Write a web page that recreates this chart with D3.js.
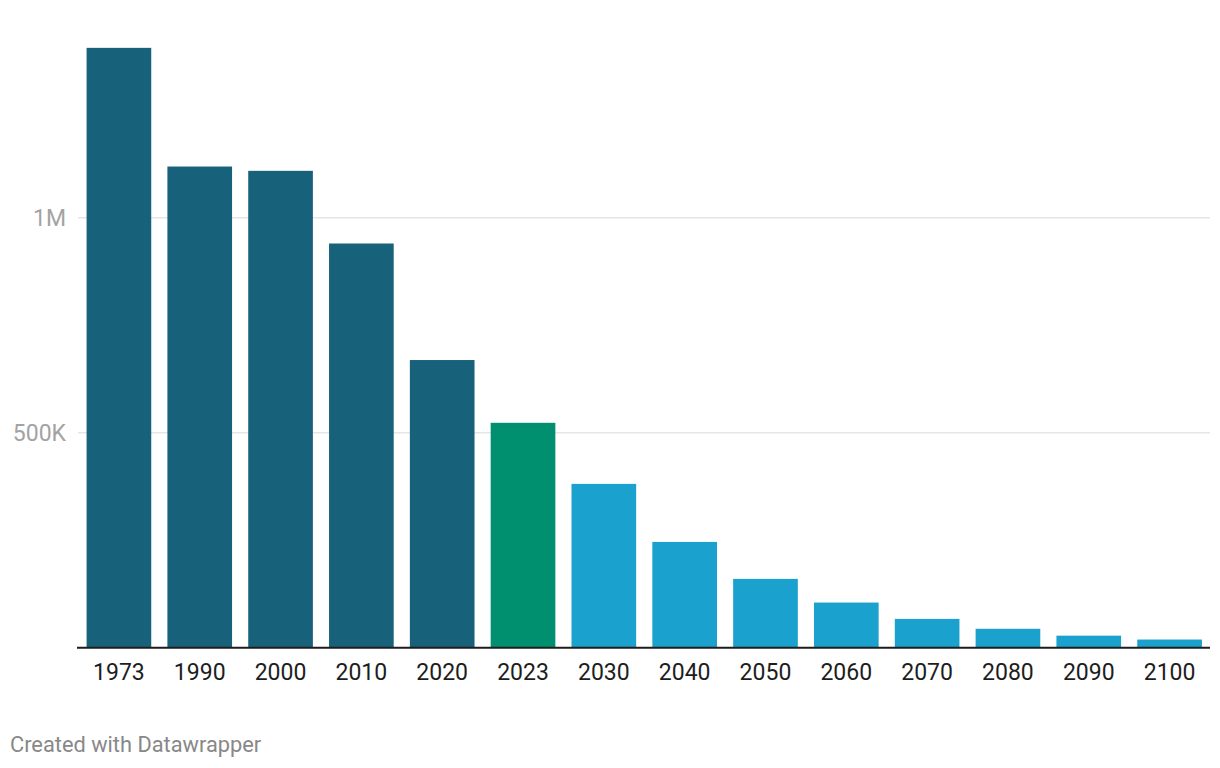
<!DOCTYPE html>
<html>
<head>
<meta charset="utf-8">
<script src="https://cdn.jsdelivr.net/npm/d3@7"></script>
<style>
  html, body { margin: 0; padding: 0; background: #fff; }
  svg { display: block; font-family: Roboto, "Noto Sans", sans-serif; }
</style>
</head>
<body>
<svg id="chart" width="1220" height="768"></svg>
<script>
const years = ["1973","1990","2000","2010","2020","2023","2030","2040","2050","2060","2070","2080","2090","2100"];
const values = [1395000,1119000,1109000,940000,669000,523000,381000,246000,160000,105000,67000,44000,28000,19000];
const groups = ["past","past","past","past","past","current","future","future","future","future","future","future","future","future"];
const yTicks = [500000, 1000000];
const yTickLabels = ["500K", "1M"];
const colors = { past: "#18617a", current: "#01906f", future: "#1aa1cd" };

const svg = d3.select("#chart");
const x = d3.scaleBand().domain(years).range([78.5, 1210]).paddingInner(0.2).paddingOuter(0.1);
const y = d3.scaleLinear().domain([0, 1000000]).range([647.7, 217.7]);

// gridlines
const grid = svg.append("g");
grid.selectAll("line").data(yTicks).join("line")
  .attr("x1", 78).attr("x2", 1210)
  .attr("y1", d => y(d)).attr("y2", d => y(d))
  .attr("stroke", "#e5e5e5").attr("stroke-width", 1.4);

// y labels
svg.append("g").selectAll("text").data(yTicks).join("text")
  .attr("x", 66).attr("y", d => y(d)).attr("dy", "0.36em")
  .attr("text-anchor", "end")
  .attr("font-size", 23).attr("fill", "#a3a3a3")
  .text((d, i) => yTickLabels[i]);

// bars
svg.append("g").selectAll("rect").data(years).join("rect")
  .attr("x", d => x(d)).attr("width", x.bandwidth())
  .attr("y", (d, i) => y(values[i]))
  .attr("height", (d, i) => y(0) - y(values[i]))
  .attr("fill", (d, i) => colors[groups[i]]);

// x axis
const xAxis = svg.append("g").attr("transform", `translate(0,${y(0)})`)
  .call(d3.axisBottom(x).tickSize(0).tickPadding(0));
xAxis.select(".domain").attr("d", "M77,0H1210").attr("stroke", "#1d1d1d").attr("stroke-width", 2);
xAxis.selectAll("text")
  .attr("font-family", "Roboto, sans-serif")
  .attr("font-size", 23).attr("fill", "#1d1d1d")
  .attr("y", 32).attr("dy", 0);

// footer
svg.append("text").attr("x", 10).attr("y", 752)
  .attr("font-size", 21.8).attr("fill", "#888888")
  .text("Created with Datawrapper");
</script>
</body>
</html>
